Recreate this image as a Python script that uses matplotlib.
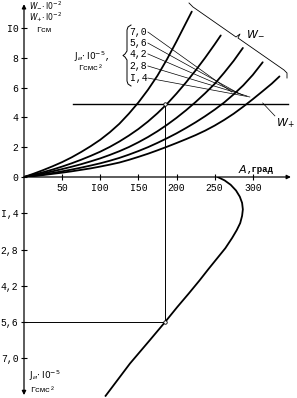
import matplotlib
matplotlib.use('Agg')
import matplotlib.pyplot as plt
import numpy as np

plt.rcParams['font.family'] = ['Liberation Mono', 'DejaVu Sans Mono']
plt.rcParams['mathtext.fontset'] = 'dejavusans'

# W- curves, one per J value (A in degrees, W in 1e2 g*cm)
j_labels = ['7,0', '5,6', '4,2', '2,8', 'I,4']
a1 = [0, 12.5, 25, 37.5, 50, 62.5, 75, 87.5, 100, 112.5, 125, 137.5, 150, 162.5, 175, 187.5, 200, 210, 220]
w1 = [0, 0.22, 0.46, 0.72, 1.0, 1.32, 1.68, 2.07, 2.5, 3.0, 3.57, 4.25, 5.0, 5.85, 6.8, 7.9, 9.1, 10.1, 11.1]
a2 = [0, 12.5, 25, 37.5, 50, 62.5, 75, 87.5, 100, 112.5, 125, 137.5, 150, 162.5, 175, 187.5, 200, 212.5,
      225, 237.5, 250, 258]
w2 = [0, 0.15, 0.32, 0.5, 0.7, 0.92, 1.16, 1.42, 1.7, 2.02, 2.38, 2.78, 3.22, 3.72, 4.28, 4.9, 5.6, 6.35,
      7.15, 8.0, 8.9, 9.5]
a3 = [0, 12.5, 25, 37.5, 50, 62.5, 75, 87.5, 100, 112.5, 125, 137.5, 150, 162.5, 175, 187.5, 200, 212.5,
      225, 237.5, 250, 262.5, 275, 287]
w3 = [0, 0.11, 0.24, 0.38, 0.53, 0.69, 0.86, 1.05, 1.25, 1.48, 1.73, 2.01, 2.33, 2.68, 3.07, 3.5, 3.97, 4.48,
      5.03, 5.62, 6.25, 7.0, 7.8, 8.66]
a4 = [0, 12.5, 25, 37.5, 50, 62.5, 75, 87.5, 100, 112.5, 125, 137.5, 150, 162.5, 175, 187.5, 200, 212.5,
      225, 237.5, 250, 262.5, 275, 287.5, 300, 313]
w4 = [0, 0.08, 0.17, 0.27, 0.38, 0.5, 0.63, 0.77, 0.92, 1.09, 1.28, 1.5, 1.74, 2.0, 2.29, 2.6, 2.93, 3.29,
      3.67, 4.08, 4.52, 5.0, 5.55, 6.15, 6.85, 7.7]
a5 = [0, 12.5, 25, 37.5, 50, 62.5, 75, 87.5, 100, 112.5, 125, 137.5, 150, 162.5, 175, 187.5, 200, 212.5,
      225, 237.5, 250, 262.5, 275, 287.5, 300, 312.5, 325, 335]
w5 = [0, 0.06, 0.13, 0.21, 0.29, 0.38, 0.48, 0.58, 0.7, 0.83, 0.97, 1.15, 1.35, 1.56, 1.79, 2.03, 2.28, 2.54,
      2.81, 3.11, 3.45, 3.83, 4.25, 4.72, 5.22, 5.74, 6.27, 6.75]

w_plus = 4.9
a_plus = [64, 346]

# J(A) curve, lower part
aj = [254, 263, 271, 278, 283, 286, 287, 286, 283.5, 279, 273, 264, 253, 242, 230, 216, 201, 185, 165, 139, 107]
jj = [0, 0.13, 0.3, 0.52, 0.76, 1.0, 1.25, 1.5, 1.78, 2.05, 2.35, 2.75, 3.15, 3.55, 4.0, 4.5, 5.02, 5.6,
      6.3, 7.2, 8.45]

a_sel = 185
j_sel = 5.6

w_ticks = [0, 2, 4, 6, 8, 10]
w_ticklabels = ['0', '2', '4', '6', '8', 'I0']
a_ticks = [50, 100, 150, 200, 250, 300]
a_ticklabels = ['50', 'I00', 'I50', '200', '250', '300']
j_ticks = [1.4, 2.8, 4.2, 5.6, 7.0]
j_ticklabels = ['I,4', '2,8', '4,2', '5,6', '7,0']

W, H = 297, 398


def px(x, y):
    return x / W, 1 - y / H


fig = plt.figure(figsize=(2.97, 3.98), dpi=100)
ax = fig.add_axes([24 / W, 1 - 177 / H, 1 - 24 / W, 177 / H])
axb = fig.add_axes([24 / W, 0, 1 - 24 / W, 1 - 177 / H])
for a in (ax, axb):
    a.set_facecolor('none')
    for s in a.spines.values():
        s.set_visible(False)

ax.set_xlim(0, 358)
ax.set_ylim(0, 177 / 14.9)
axb.set_xlim(0, 358)
axb.set_ylim(221 / 25.9, 0)

lw = 1.3
for a_, w_ in [(a1, w1), (a2, w2), (a3, w3), (a4, w4), (a5, w5)]:
    ax.plot(a_, w_, color='black', lw=lw, solid_capstyle='round', solid_joinstyle='round')

ax.plot(a_plus, [w_plus, w_plus], color='black', lw=1.0)
ax.plot([a_sel, a_sel], [0, w_plus], color='black', lw=0.7)
ax.plot([a_sel], [w_plus], 'o', ms=2.5, mfc='white', mec='black', mew=0.6)

axb.plot(aj, jj, color='black', lw=lw, solid_joinstyle='round')
axb.plot([a_sel, a_sel], [0, j_sel], color='black', lw=0.7)
axb.plot([0, a_sel], [j_sel, j_sel], color='black', lw=0.7)
axb.plot([a_sel], [j_sel], 'o', ms=2.5, mfc='white', mec='black', mew=0.6, zorder=5)

# axes with arrows
arr = dict(arrowstyle='-|>', lw=0.9, color='black', mutation_scale=6, shrinkA=0, shrinkB=0)
ax.annotate('', xy=(0, 11.6), xytext=(0, 0), arrowprops=arr, annotation_clip=False)
ax.annotate('', xy=(350, 0), xytext=(0, 0), arrowprops=arr, annotation_clip=False)
axb.annotate('', xy=(0, 8.42), xytext=(0, 0), arrowprops=arr, annotation_clip=False)

ax.set_xticks(a_ticks)
ax.set_xticklabels(a_ticklabels)
ax.set_yticks(w_ticks)
ax.set_yticklabels(w_ticklabels)
ax.tick_params(direction='inout', length=4, width=0.8, labelsize=7, pad=2)
axb.set_xticks([])
axb.set_yticks(j_ticks)
axb.set_yticklabels(j_ticklabels)
axb.tick_params(direction='inout', length=4, width=0.8, labelsize=7, pad=2)

# leader lines from J labels
lead_start = [(162.5, 9.73), (162.5, 8.99), (162.5, 8.26), (162.5, 7.45), (162.5, 6.64)]
lead_end = [(272.6, 5.70), (280.5, 5.64), (287.0, 5.50), (292.3, 5.44), (296.2, 5.37)]
for lab, s, e in zip(j_labels, lead_start, lead_end):
    ax.plot([s[0], e[0]], [s[1], e[1]], color='black', lw=0.5)
    ax.text(s[0] - 1, s[1], lab, fontsize=7, ha='right', va='center')

# W+ leader and label
ax.plot([313, 329], [4.97, 4.1], color='black', lw=0.5)
ax.text(331, 3.6, r'$W_{+}$', fontsize=8, ha='left', va='center')

# brace left of J labels
brace = [(131, 25), (128, 27), (127, 30), (127, 51), (125, 54), (123, 55.5), (125, 57),
         (127, 60), (127, 81), (128, 84), (131, 86)]
bx, by = zip(*[px(*p) for p in brace])
fig.add_artist(plt.Line2D(bx, by, color='black', lw=0.7))

# W- bracket
brk = [(189, 3), (193, 7), (236, 37), (240, 34), (238, 38), (284, 70), (287, 73), (287, 78)]
kx, ky = zip(*[px(*p) for p in brk])
fig.add_artist(plt.Line2D(kx, ky, color='black', lw=0.6))
fig.text(*px(246, 34), r'$W_{-}$', fontsize=8, ha='left', va='center')

fig.text(*px(238, 169), r'$A$', fontsize=8, ha='left', va='center')
fig.text(*px(247, 170), ',град', fontsize=6.5, ha='left', va='center', fontweight='bold')

fig.text(*px(29, 5), r'$W_{-}\!\cdot\mathrm{I0}^{-2}$', fontsize=5.5, ha='left', va='center')
fig.text(*px(29, 17), r'$W_{+}\!\cdot\mathrm{I0}^{-2}$', fontsize=5.5, ha='left', va='center')
fig.text(*px(36, 30), 'Гсм', fontsize=6, ha='left', va='center')

fig.text(*px(74, 57), r'$\mathrm{J}_{и}\!\cdot\mathrm{I0}^{-5}$,', fontsize=6.5, ha='left', va='center')
fig.text(*px(78, 69), 'Гсмс²', fontsize=6, ha='left', va='center')

fig.text(*px(29, 376), r'$\mathrm{J}_{и}\!\cdot\mathrm{I0}^{-5}$', fontsize=6.5, ha='left', va='center')
fig.text(*px(30, 390), 'Гсмс²', fontsize=6, ha='left', va='center')

fig.savefig('out.png', dpi=100, facecolor='white')
